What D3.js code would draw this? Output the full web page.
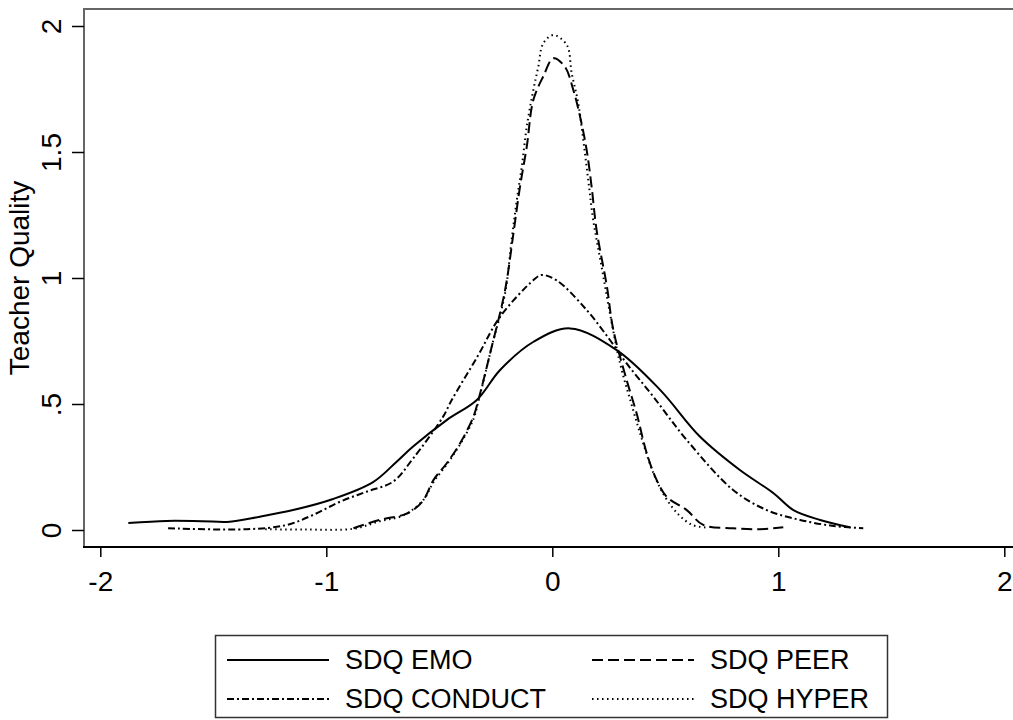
<!DOCTYPE html>
<head>
    <meta charset="utf-8" />
    <script src="https://d3js.org/d3.v7.min.js"></script>
    <style>
        body { margin: 0; background: #fff; }
        text { font-family: "Liberation Sans", Arial, sans-serif; fill: #000; }
    </style>
</head>
<body>
<div id="chart"></div>
<script>
    // density curves
    const emoX = [-1.876, -1.707, -1.55, -1.427, -1.294, -1.147, -0.97, -0.793, -0.69, -0.616, -0.466, -0.334, -0.231, -0.083, 0.078, 0.285, 0.477, 0.654, 0.83, 0.979, 1.067, 1.185, 1.317];
    const emoY = [0.028, 0.036, 0.035, 0.033, 0.053, 0.079, 0.123, 0.19, 0.27, 0.331, 0.437, 0.516, 0.635, 0.747, 0.80, 0.714, 0.556, 0.37, 0.238, 0.146, 0.079, 0.04, 0.011];

    const peerX = [-0.88, -0.763, -0.659, -0.616, -0.57, -0.526, -0.467, -0.408, -0.349, -0.327, -0.27, -0.209, -0.172, -0.143, -0.113, -0.084, -0.04, 0.005, 0.056, 0.093, 0.123, 0.152, 0.174, 0.196, 0.241, 0.27, 0.329, 0.373, 0.418, 0.462, 0.506, 0.595, 0.668, 0.80, 0.919, 1.022];
    const peerY = [0.007, 0.04, 0.06, 0.079, 0.119, 0.198, 0.265, 0.344, 0.45, 0.516, 0.72, 0.952, 1.177, 1.362, 1.521, 1.706, 1.80, 1.872, 1.838, 1.746, 1.64, 1.508, 1.362, 1.19, 0.97, 0.794, 0.595, 0.463, 0.304, 0.198, 0.132, 0.079, 0.02, 0.007, 0.003, 0.011];

    const conductX = [-1.70, -1.352, -1.175, -1.058, -0.94, -0.822, -0.704, -0.616, -0.483, -0.445, -0.33, -0.231, -0.083, -0.047, 0.02, 0.152, 0.255, 0.329, 0.447, 0.595, 0.80, 0.949, 1.096, 1.245, 1.376];
    const conductY = [0.007, 0.003, 0.02, 0.06, 0.112, 0.152, 0.192, 0.284, 0.45, 0.516, 0.69, 0.846, 0.992, 1.012, 0.99, 0.873, 0.754, 0.661, 0.529, 0.357, 0.159, 0.079, 0.04, 0.016, 0.007];

    const hyperX = [-1.27, -1.1, -0.88, -0.763, -0.659, -0.57, -0.526, -0.467, -0.408, -0.349, -0.327, -0.27, -0.209, -0.18, -0.157, -0.135, -0.113, -0.084, -0.062, -0.04, 0.005, 0.064, 0.086, 0.115, 0.137, 0.159, 0.181, 0.218, 0.255, 0.30, 0.35, 0.40, 0.45, 0.50, 0.56, 0.62, 0.68];
    const hyperY = [0.003, 0.002, 0.005, 0.035, 0.058, 0.12, 0.19, 0.26, 0.34, 0.44, 0.51, 0.72, 0.939, 1.151, 1.31, 1.442, 1.60, 1.746, 1.838, 1.931, 1.964, 1.925, 1.812, 1.693, 1.548, 1.389, 1.23, 1.045, 0.86, 0.66, 0.50, 0.35, 0.22, 0.13, 0.06, 0.02, 0.01];

    const xTicks = [-2, -1, 0, 1, 2];
    const xTickLabels = ["-2", "-1", "0", "1", "2"];
    const yTicks = [0, 0.5, 1, 1.5, 2];
    const yTickLabels = ["0", ".5", "1", "1.5", "2"];
    const seriesNames = ["SDQ EMO", "SDQ PEER", "SDQ CONDUCT", "SDQ HYPER"];

    const W = 1013, H = 720;
    const plot = { left: 84, top: 9, right: 1013, bottom: 547 };

    const svg = d3.select("#chart").append("svg")
        .attr("width", W)
        .attr("height", H);

    // scales: -2..2 on x, 0..2 on y
    const x = d3.scaleLinear().domain([-2, 2]).range([100.3, 1004.3]);
    const y = d3.scaleLinear().domain([0, 2]).range([530, 26]);

    // plot region outline
    svg.append("path")
        .attr("d", `M${plot.left},${plot.bottom} V${plot.top} H${plot.right}`)
        .attr("fill", "none")
        .attr("stroke", "#666")
        .attr("stroke-width", 2);

    // x axis
    const xAxis = svg.append("g")
        .attr("transform", `translate(0,${plot.bottom})`)
        .call(d3.axisBottom(x).tickValues(xTicks)
            .tickFormat((d, i) => xTickLabels[i])
            .tickSize(10).tickSizeOuter(0).tickPadding(14));
    xAxis.select(".domain").remove();
    xAxis.selectAll("line").attr("stroke", "#000").attr("stroke-width", 1.5);
    xAxis.selectAll("text")
        .style("font-family", '"Liberation Sans", Arial, sans-serif')
        .style("font-size", "28px");
    svg.append("line")
        .attr("x1", plot.left - 1).attr("x2", plot.right)
        .attr("y1", plot.bottom).attr("y2", plot.bottom)
        .attr("stroke", "#000").attr("stroke-width", 2.2);

    // y axis
    const yAxis = svg.append("g")
        .attr("transform", `translate(${plot.left},0)`)
        .call(d3.axisLeft(y).tickValues(yTicks)
            .tickFormat((d, i) => yTickLabels[i])
            .tickSize(12).tickSizeOuter(0));
    yAxis.select(".domain").remove();
    yAxis.selectAll("line").attr("stroke", "#000").attr("stroke-width", 1.5);
    yAxis.selectAll("text")
        .attr("x", null).attr("dy", null)
        .attr("transform", "translate(-23,0) rotate(-90)")
        .attr("text-anchor", "middle")
        .style("font-family", '"Liberation Sans", Arial, sans-serif')
        .style("font-size", "28px");

    svg.append("text")
        .attr("transform", "translate(29,278) rotate(-90)")
        .attr("text-anchor", "middle")
        .style("font-size", "28px")
        .text("Teacher Quality");

    // curves
    const series = [
        { xs: emoX, ys: emoY, dash: null },
        { xs: peerX, ys: peerY, dash: "11,5" },
        { xs: conductX, ys: conductY, dash: "7,3,2,3" },
        { xs: hyperX, ys: hyperY, dash: "1.5,3.5" }
    ];

    const line = d3.line()
        .x(d => x(d[0]))
        .y(d => y(d[1]))
        .curve(d3.curveCatmullRom.alpha(0.5));

    svg.selectAll(".curve")
        .data(series)
        .enter()
        .append("path")
        .attr("class", "curve")
        .attr("d", s => line(d3.zip(s.xs, s.ys)))
        .attr("fill", "none")
        .attr("stroke", "#000")
        .attr("stroke-width", 2)
        .attr("stroke-dasharray", s => s.dash);

    // legend
    const legend = svg.append("g");
    legend.append("rect")
        .attr("x", 215.5).attr("y", 635.5)
        .attr("width", 672).attr("height", 82)
        .attr("fill", "#fff")
        .attr("stroke", "#333")
        .attr("stroke-width", 1.5);

    const legCols = [227, 592];
    const legRows = [660, 699];
    seriesNames.forEach(function(name, i) {
        const cx = legCols[i % 2], cy = legRows[Math.floor(i / 2)];
        legend.append("line")
            .attr("x1", cx).attr("x2", cx + 102)
            .attr("y1", cy).attr("y2", cy)
            .attr("stroke", "#000")
            .attr("stroke-width", 2)
            .attr("stroke-dasharray", series[i].dash);
        legend.append("text")
            .attr("x", cx + 118)
            .attr("y", cy + 9)
            .style("font-size", "27px")
            .text(name);
    });
</script>
</body>
